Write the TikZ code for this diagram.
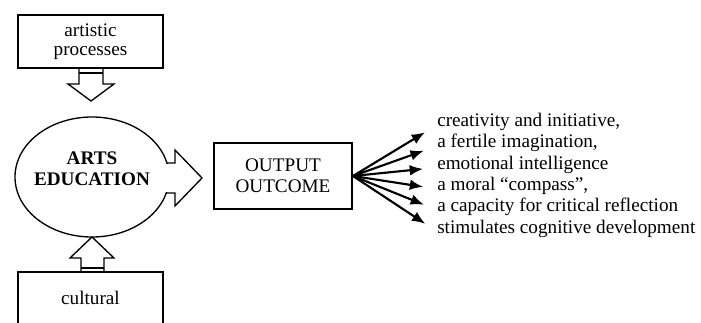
\documentclass[tikz,border=0pt]{standalone}
\usepackage{fontspec}
\setmainfont{Liberation Serif}
\usetikzlibrary{arrows.meta,shapes.geometric}

\begin{document}
\begin{tikzpicture}[x=0.75pt,y=0.75pt,yscale=-1,xscale=1,
  every node/.style={font=\fontsize{14.4}{15.75}\selectfont},
  box/.style={draw,line width=1.2pt,inner sep=0.75pt,align=center},
  item/.style={anchor=west,inner sep=0pt,text height=1ex,text depth=.5ex},
  pointer/.style={-{Latex[length=10pt,width=8pt]},line width=1.6pt,shorten >=10.5pt},
  blockarrow/.style={line width=1pt,line join=miter}]
\useasboundingbox (0,0) rectangle (701,322);
\clip (0,0) rectangle (701,322);
\node[box,minimum width=108.75pt,minimum height=39.75pt,font=\fontsize{14.4}{14.5}\selectfont] (artistic) at (90.5,41.5) {artistic\\processes};
\node[draw,ellipse,line width=1pt,minimum width=115.5pt,minimum height=90pt,inner sep=0pt] (arts) at (92,177) {};
\node[align=center,inner sep=0.75pt,font=\bfseries\fontsize{14.4}{15.75}\selectfont] (artslabel) at (92,169) {ARTS\\EDUCATION};
\node[box,minimum width=103.5pt,minimum height=49.5pt,line width=1.4pt] (output) at (283,176) {OUTPUT\\OUTCOME};
\node[box,minimum width=108.75pt,minimum height=39pt] (cultural) at (90.5,298) {cultural};
% block arrows
\draw[blockarrow] (79,68) -- (79,84) -- (68,84) -- (91,101) -- (114,84) -- (103,84) -- (103,68);
\draw[line width=2.2pt] (79,73) -- (103,73);
\draw[blockarrow] (81,272) -- (81,258) -- (70,258) -- (92,237) -- (114,258) -- (104,258) -- (104,272);
\draw[line width=2.2pt] (81,268) -- (104,268);
\fill[white] (158,164) rectangle (175,192);
\draw[blockarrow] (167,163) -- (175,163) -- (175,150) -- (202,178) -- (175,206) -- (175,193) -- (166,193);
% outcomes
\node[item] (creativity) at (437,125) {creativity and initiative,};
\node[item] (imagination) at (437,146) {a fertile imagination,};
\node[item] (emotional) at (437,167.5) {emotional intelligence};
\node[item] (compass) at (437,189) {a moral ``compass'',};
\node[item] (reflection) at (437,210) {a capacity for critical reflection};
\node[item] (cognitive) at (437,231.5) {stimulates cognitive development};
\draw[pointer] (output.east) -- (creativity.west);
\draw[pointer] (output.east) -- (imagination.west);
\draw[pointer] (output.east) -- (emotional.west);
\draw[pointer] (output.east) -- (compass.west);
\draw[pointer] (output.east) -- (reflection.west);
\draw[pointer] (output.east) -- (cognitive.west);
\end{tikzpicture}
\end{document}
